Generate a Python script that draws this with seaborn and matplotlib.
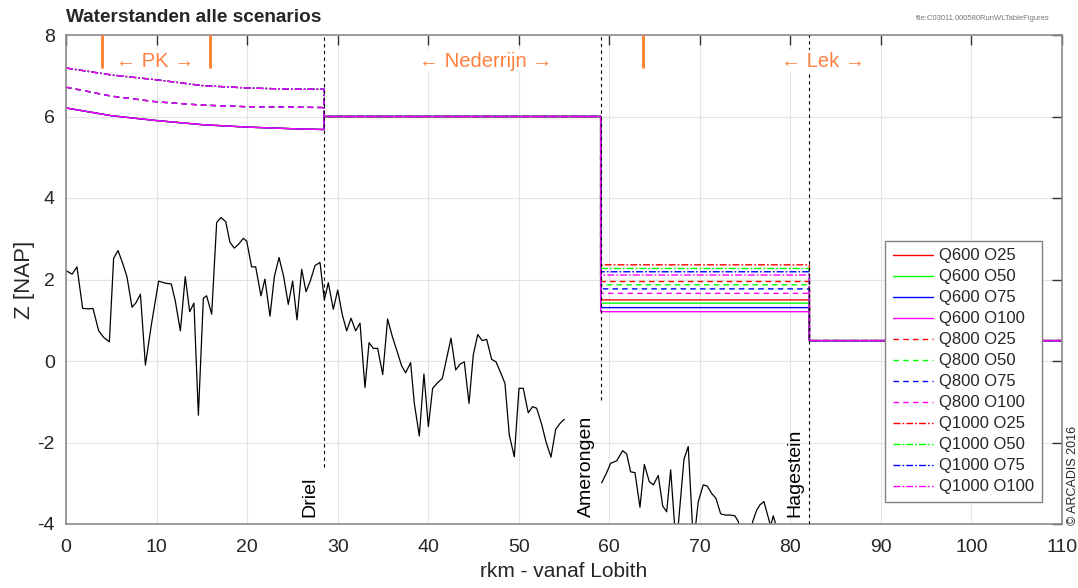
import matplotlib
matplotlib.use("Agg")
import matplotlib.pyplot as plt
import seaborn as sns
import pandas as pd

# ---------------- data ----------------
bed1_km = [0, 0.67, 1.21, 1.84, 2.50, 2.98, 3.61, 4.16, 4.79, 5.26, 5.75, 6.30, 6.73, 7.29, 7.73,
           8.22, 8.77, 9.42, 10.23, 10.97, 11.63, 12.08, 12.63, 13.17, 13.66, 14.13, 14.62, 15.17,
           15.53, 16.09, 16.64, 17.12, 17.64, 18.11, 18.59, 19.03, 19.59, 19.96, 20.50, 20.95,
           21.53, 21.97, 22.53, 23.01, 23.53, 24.04, 24.55, 25.03, 25.51, 26.03, 26.51, 27.02,
           27.50, 28.05, 28.53, 28.97, 29.52, 30.01, 30.52, 31.00, 31.48, 31.99, 32.47, 33.02,
           33.47, 33.94, 34.42, 34.98, 35.52, 36.04, 36.52, 37.07, 37.51, 38.06, 38.47, 39.02,
           39.53, 40.02, 40.49, 41.05, 41.56, 42.52, 43.04, 43.51, 43.99, 44.51, 44.98, 45.47,
           45.97, 46.46, 47.01, 47.49, 48.01, 48.48, 48.96, 49.51, 50.03, 50.50, 51.05, 51.54,
           51.98, 52.53, 53.01, 53.56, 54.08, 54.56, 55.03]
bed1_z = [2.22, 2.13, 2.31, 1.29, 1.28, 1.29, 0.74, 0.58, 0.47, 2.52, 2.71, 2.37, 2.07, 1.32, 1.43,
          1.64, -0.10, 0.88, 1.96, 1.91, 1.89, 1.46, 0.74, 2.07, 1.21, 1.42, -1.33, 1.54,
          1.60, 1.15, 3.40, 3.52, 3.42, 2.91, 2.77, 2.86, 3.01, 2.94, 2.31, 2.31,
          1.60, 2.01, 1.10, 2.07, 2.54, 2.07, 1.39, 1.96, 1.01, 2.25, 1.70, 1.99,
          2.34, 2.42, 1.50, 1.92, 1.27, 1.74, 1.13, 0.74, 1.05, 0.74, 0.93, -0.65,
          0.45, 0.31, 0.31, -0.33, 1.03, 0.60, 0.27, -0.12, -0.29, -0.04, -1.04, -1.84,
          -0.32, -1.61, -0.67, -0.53, -0.43, 0.56, -0.22, -0.08, -0.02, -1.04, 0.15, 0.65,
          0.50, 0.53, 0.04, -0.02, -0.29, -0.55, -1.82, -2.35, -0.67, -0.67, -1.27, -1.12,
          -1.16, -1.55, -1.98, -2.36, -1.68, -1.53, -1.43]

bed2_km = [59.16, 59.71, 60.15, 60.82, 61.48, 61.92, 62.36, 62.84, 63.39, 63.87, 64.42, 64.86,
           65.41, 65.90, 66.34, 66.78, 67.40, 68.25, 68.72, 69.30, 69.83, 70.38, 70.82, 71.31,
           71.78, 72.30, 72.78, 73.33, 73.88, 74.25, 74.55, 75.55, 75.84, 76.28, 76.64, 77.08,
           77.56, 77.82, 78.11, 78.30, 78.50]
bed2_z = [-2.99, -2.74, -2.51, -2.45, -2.20, -2.28, -2.72, -2.74, -3.59, -2.54, -2.96, -3.04,
          -2.81, -3.56, -3.70, -2.67, -4.60, -2.41, -2.10, -4.50, -3.45, -3.04, -3.07, -3.25,
          -3.37, -3.75, -3.78, -3.78, -3.80, -3.94, -4.30, -4.30, -3.94, -3.66, -3.53, -3.45,
          -3.84, -4.05, -3.80, -3.94, -4.50]

# river-km of locations
km_driel = 28.5
km_amerongen = 59.05
km_hagestein = 82.1
km_end = 110.0

# upstream (Pannerdensch Kanaal / Nederrijn) water levels per discharge
wl_km_upper = [0, 5, 10, 15, 20, 25, 28.5]
wl_upper = {
    "Q600": [6.21, 6.02, 5.90, 5.80, 5.74, 5.70, 5.68],
    "Q800": [6.72, 6.50, 6.36, 6.28, 6.24, 6.23, 6.22],
    "Q1000": [7.19, 7.02, 6.90, 6.76, 6.70, 6.67, 6.67],
}
wl_weir_driel = 6.0
wl_lek = 0.5
discharges = ["Q600", "Q800", "Q1000"]
variants = ["O25", "O50", "O75", "O100"]
# level between Amerongen and Hagestein per scenario
wl_mid = {
    ("Q600", "O25"): 1.50, ("Q600", "O50"): 1.42, ("Q600", "O75"): 1.31, ("Q600", "O100"): 1.21,
    ("Q800", "O25"): 1.95, ("Q800", "O50"): 1.87, ("Q800", "O75"): 1.77, ("Q800", "O100"): 1.66,
    ("Q1000", "O25"): 2.36, ("Q1000", "O50"): 2.27, ("Q1000", "O75"): 2.19, ("Q1000", "O100"): 2.11,
}
variant_colors = {"O25": "#FF0000", "O50": "#00FF00", "O75": "#0000FF", "O100": "#FF00FF"}
discharge_styles = {"Q600": "-", "Q800": (0, (4, 3)), "Q1000": (0, (5, 1.5, 1.2, 1.5))}

pk_marks_km = [3.98, 15.9, 63.7]

# ---------------- style ----------------
sns.set_theme(style="whitegrid")
plt.rcParams["font.family"] = ["Liberation Sans", "DejaVu Sans"]
plt.rcParams["axes.unicode_minus"] = False

fig = plt.figure(figsize=(10.78, 5.88), dpi=100)
ax = fig.add_axes([66 / 1078, 1 - 524 / 588, 996 / 1078, 489 / 588])
ax.set_facecolor("white")

# bed profile
sns.lineplot(x=bed1_km, y=bed1_z, ax=ax, color="black", lw=0.9, sort=False, estimator=None)
sns.lineplot(x=bed2_km, y=bed2_z, ax=ax, color="black", lw=0.9, sort=False, estimator=None)

# water levels
for q in discharges:
    for o in variants:
        xs = list(wl_km_upper) + [km_driel, km_amerongen, km_amerongen, km_hagestein,
                                  km_hagestein, km_end]
        zs = list(wl_upper[q]) + [wl_weir_driel, wl_weir_driel, wl_mid[(q, o)], wl_mid[(q, o)],
                                  wl_lek, wl_lek]
        df = pd.DataFrame({"x": xs, "z": zs})
        sns.lineplot(data=df, x="x", y="z", ax=ax, sort=False, estimator=None,
                     color=variant_colors[o], linestyle=discharge_styles[q], lw=1.0,
                     label=f"{q} {o}")

# location dashed lines
ax.vlines(km_driel, -2.6, 8, colors="black", linestyles=(0, (3, 3)), lw=0.8, zorder=3)
ax.vlines(km_amerongen, -0.95, 8, colors="black", linestyles=(0, (3, 3)), lw=0.8, zorder=3)
ax.vlines(km_hagestein, -4, 8, colors="black", linestyles=(0, (3, 3)), lw=0.8, zorder=3)

# orange section markers
ax.vlines(pk_marks_km, 7.2, 8, colors="#FF7F2A", lw=2, zorder=4)
orange = "#FF8040"
bb = dict(facecolor="white", edgecolor="none", pad=1)
ax.text(9.83, 7.36, "\u2190 PK \u2192", color=orange, fontsize=14.5, ha="center", va="center",
        bbox=bb, zorder=5)
ax.text(46.4, 7.36, "\u2190 Nederrijn \u2192", color=orange, fontsize=14.5, ha="center",
        va="center", bbox=bb, zorder=5)
ax.text(83.6, 7.36, "\u2190 Lek \u2192", color=orange, fontsize=14.5, ha="center", va="center",
        bbox=bb, zorder=5)

# location labels
for xk, name in [(26.95, "Driel"), (57.5, "Amerongen"), (80.5, "Hagestein")]:
    ax.text(xk, -3.82, name, rotation=90, ha="center", va="bottom", fontsize=14,
            color="black", zorder=5)

ax.set_xlim(0, 110)
ax.set_ylim(-4, 8)
ax.set_xticks(range(0, 111, 10))
ax.set_yticks(range(-4, 9, 2))
ax.tick_params(direction="in", length=7, width=1, color="#333333", top=True, right=True,
               labelsize=14)
ax.tick_params(axis="x", pad=11)
ax.tick_params(axis="y", pad=8)
ax.grid(True, color="#E3E3E3", lw=0.8)
for s in ax.spines.values():
    s.set_color("#8C8C8C")
    s.set_linewidth(1.2)

ax.set_xlabel("rkm - vanaf Lobith", fontsize=15, labelpad=4)
ax.set_ylabel("Z [NAP]", fontsize=16, labelpad=2)

leg = ax.legend(loc="upper right", bbox_to_anchor=(0.98, 0.579), borderaxespad=0,
                fontsize=12, frameon=True, fancybox=False, edgecolor="#808080", framealpha=1,
                handlelength=2.4, labelspacing=0.36, borderpad=0.45, handletextpad=0.4)
leg.get_frame().set_linewidth(1.0)

fig.text(66 / 1078, 1 - 18 / 588, "Waterstanden alle scenarios", fontsize=13.7,
         fontweight="bold", ha="left", va="center")
fig.text(1050 / 1078, 1 - 19 / 588, "file:C03011.000580RunWLTableFigures", fontsize=5.5,
         color="#777777", ha="right", va="center")
fig.text(1073 / 1078, 1 - 525 / 588, "\u00a9 ARCADIS 2016", fontsize=9, rotation=90,
         ha="center", va="bottom")

fig.savefig("out.png", dpi=100)
